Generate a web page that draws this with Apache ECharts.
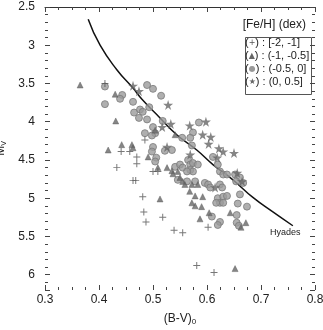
<!DOCTYPE html>
<html>
<head>
<meta charset="utf-8">
<script src="https://cdn.jsdelivr.net/npm/echarts@6/dist/echarts.min.js"></script>
<style>
  html, body { margin: 0; padding: 0; background: #fff; }
  #chart { width: 323px; height: 330px; }
</style>
</head>
<body>
<div id="chart"></div>
<script>
// [Fe/H] in [-2, -1]
const plusPts = [
  [0.411, 3.50], [0.441, 4.39], [0.457, 4.39], [0.485, 4.24], [0.470, 4.46],
  [0.470, 4.55], [0.433, 4.60], [0.463, 4.77], [0.468, 4.77], [0.500, 4.65],
  [0.509, 4.65], [0.481, 4.98], [0.483, 5.18], [0.487, 5.31], [0.518, 5.25],
  [0.539, 5.42], [0.555, 5.45], [0.602, 5.38], [0.581, 5.88], [0.613, 5.97]
];
// (-1, -0.5]
const trianglePts = [
  [0.365, 3.52], [0.430, 3.64], [0.431, 3.99], [0.417, 4.37], [0.442, 4.30],
  [0.461, 4.30], [0.463, 4.34], [0.491, 4.46], [0.504, 4.11], [0.541, 4.17],
  [0.509, 4.60], [0.526, 4.60], [0.535, 4.64], [0.537, 4.68], [0.546, 4.65],
  [0.550, 4.73], [0.513, 5.01], [0.555, 4.78], [0.559, 4.82], [0.572, 4.82],
  [0.583, 4.82], [0.568, 4.91], [0.578, 4.97], [0.592, 4.98], [0.572, 5.06],
  [0.578, 5.10], [0.590, 5.11], [0.604, 5.19], [0.587, 5.27], [0.643, 5.19],
  [0.672, 5.32], [0.663, 5.38], [0.652, 5.92]
];
// (-0.5, 0]
const circlePts = [
  [0.411, 3.54], [0.443, 3.65], [0.439, 3.70], [0.489, 3.52], [0.500, 3.57],
  [0.515, 3.66], [0.411, 3.77], [0.463, 3.74], [0.465, 3.88], [0.476, 3.84],
  [0.481, 3.87], [0.474, 3.95], [0.489, 3.97], [0.493, 3.81], [0.518, 3.99],
  [0.585, 4.01], [0.500, 4.07], [0.504, 4.15], [0.498, 4.18], [0.554, 4.21],
  [0.574, 4.14], [0.569, 4.21], [0.572, 4.31], [0.485, 4.15], [0.500, 4.33],
  [0.498, 4.39], [0.522, 4.38], [0.535, 4.37], [0.506, 4.47], [0.504, 4.52],
  [0.565, 4.50], [0.569, 4.56], [0.574, 4.54], [0.583, 4.56], [0.569, 4.63],
  [0.574, 4.65], [0.541, 4.59], [0.550, 4.56], [0.555, 4.60], [0.563, 4.65],
  [0.611, 4.46], [0.620, 4.56], [0.624, 4.65], [0.630, 4.69], [0.637, 4.69],
  [0.652, 4.69], [0.661, 4.73], [0.667, 4.80], [0.654, 4.78], [0.546, 4.76],
  [0.563, 4.78], [0.578, 4.78], [0.596, 4.80], [0.602, 4.82], [0.606, 4.86],
  [0.624, 4.82], [0.628, 4.86], [0.620, 5.00], [0.630, 4.98], [0.637, 4.97],
  [0.624, 5.06], [0.617, 5.06], [0.630, 5.06], [0.609, 5.24], [0.624, 5.31],
  [0.620, 5.35], [0.661, 4.95], [0.657, 5.07], [0.674, 5.11], [0.655, 5.22],
  [0.655, 5.32], [0.659, 5.36]
];
// (0, 0.5]
const starPts = [
  [0.463, 3.53], [0.474, 3.60], [0.528, 3.78], [0.533, 4.03], [0.517, 4.07],
  [0.568, 4.05], [0.598, 4.00], [0.592, 4.17], [0.607, 4.20], [0.603, 4.29],
  [0.526, 4.33], [0.569, 4.43], [0.622, 4.35], [0.630, 4.39], [0.650, 4.41],
  [0.619, 4.47], [0.656, 4.67], [0.665, 4.78], [0.615, 4.86]
];
// Hyades sequence
const hyadesPts = [
  [0.380, 2.66], [0.402, 3.00], [0.433, 3.32], [0.463, 3.56], [0.480, 3.71],
  [0.513, 3.95], [0.544, 4.17], [0.581, 4.37], [0.611, 4.56], [0.648, 4.76],
  [0.685, 4.99], [0.722, 5.18], [0.759, 5.36]
];
const legendRows = [
  ['+', '[-2, -1]', '#555'],
  ['▲', '(-1, -0.5]', '#666'],
  ['●', '(-0.5, 0]', '#999'],
  ['★', '(0, 0.5]', '#666']
];

const FONT = 'Liberation Sans, Arial, sans-serif';
const PLUS = 'path://M4.3,0H5.7V4.3H10V5.7H5.7V10H4.3V5.7H0V4.3H4.3Z';
const STAR = 'path://M50,0L61,35L98,35L68,57L79,91L50,70L21,91L32,57L2,35L39,35Z';

const chart = echarts.init(document.getElementById('chart'));

const tickStyle = { color: '#444', width: 1 };

const option = {
  animation: false,
  backgroundColor: '#fff',
  grid: { left: 45, right: 8, top: 7, bottom: 40, outerBoundsMode: 'none', containLabel: false },
  xAxis: [
    {
      type: 'value', min: 0.3, max: 0.8, interval: 0.1,
      name: '{a|(B-V)}{s|0}', nameLocation: 'middle', nameGap: 22,
      nameTextStyle: { rich: {
        a: { fontFamily: FONT, fontSize: 12, color: '#222' },
        s: { fontFamily: FONT, fontSize: 8, color: '#222', verticalAlign: 'bottom', padding: [6, 0, 0, 0] }
      } },
      axisLine: { show: false },
      axisTick: { show: true, inside: true, length: 5, lineStyle: tickStyle },
      minorTick: { show: true, splitNumber: 4, length: 3, lineStyle: tickStyle },
      splitLine: { show: false },
      axisLabel: { fontFamily: FONT, fontSize: 12, color: '#222', margin: 4,
        formatter: v => String(Math.round(v * 10) / 10) }
    },
    {
      type: 'value', min: 0.3, max: 0.8, interval: 0.1, position: 'top',
      axisLine: { show: true, lineStyle: { color: '#333', width: 1 } },
      axisTick: { show: true, inside: true, length: 5, lineStyle: tickStyle },
      minorTick: { show: true, splitNumber: 4, length: 3, lineStyle: tickStyle },
      splitLine: { show: false },
      axisLabel: { show: false }
    }
  ],
  yAxis: [
    {
      type: 'value', inverse: true, min: 2.5, max: 6.2, interval: 0.5,
      name: '{a|M}{s|V}', nameLocation: 'middle', nameGap: 30, nameRotate: 90,
      nameTextStyle: { rich: {
        a: { fontFamily: FONT, fontSize: 12, color: '#222' },
        s: { fontFamily: FONT, fontSize: 7, color: '#222', verticalAlign: 'bottom', padding: [6, 0, 0, 0] }
      } },
      axisLine: { show: false },
      axisTick: { show: true, inside: true, length: 5, lineStyle: tickStyle },
      minorTick: { show: true, splitNumber: 5, length: 3, lineStyle: tickStyle },
      splitLine: { show: false },
      axisLabel: { fontFamily: FONT, fontSize: 12, color: '#222', margin: 10, showMaxLabel: false }
    },
    {
      type: 'value', inverse: true, min: 2.5, max: 6.2, interval: 0.5, position: 'right',
      axisLine: { show: false },
      axisTick: { show: true, inside: true, length: 5, lineStyle: tickStyle },
      minorTick: { show: true, splitNumber: 5, length: 3, lineStyle: tickStyle },
      splitLine: { show: false },
      axisLabel: { show: false }
    }
  ],
  series: [
    {
      name: 'Hyades', type: 'line', data: hyadesPts, smooth: true, showSymbol: false,
      lineStyle: { color: '#111', width: 1.5 }, z: 1
    },
    {
      name: 'circle', type: 'scatter', data: circlePts, symbol: 'circle', symbolSize: 7,
      itemStyle: { color: '#9b9b9b', borderColor: '#7a7a7a', borderWidth: 1 }, z: 2
    },
    {
      name: 'triangle', type: 'scatter', data: trianglePts, symbol: 'triangle', symbolSize: 6,
      itemStyle: { color: '#666', borderColor: '#555', borderWidth: 0.5 }, z: 3
    },
    {
      name: 'star', type: 'scatter', data: starPts, symbol: STAR, symbolSize: 10,
      itemStyle: { color: '#666' }, z: 4
    },
    {
      name: 'plus', type: 'scatter', data: plusPts, symbol: PLUS, symbolSize: 7,
      itemStyle: { color: '#555' }, z: 5
    }
  ],
  graphic: [
    { type: 'text', left: 270, top: 228,
      style: { text: 'Hyades', fontFamily: FONT, fontSize: 9, fill: '#222' } },
    { type: 'text', right: 17, top: 19,
      style: { text: '[Fe/H] (dex)', fontFamily: FONT, fontSize: 12, fill: '#222' } },
    { type: 'rect', left: 243, top: 35,
      shape: { width: 66, height: 57 },
      style: { fill: 'none', stroke: '#555', lineWidth: 1 } },
    ...legendRows.map((r, i) => ({
      type: 'text', left: 245, top: 37 + i * 13,
      style: {
        text: '{p|(}{m|' + r[0] + '}{p|) : ' + r[1] + '}',
        rich: {
          p: { fontFamily: FONT, fontSize: 11, fill: '#222' },
          m: { fontFamily: 'DejaVu Sans, sans-serif', fontSize: 8, fill: r[2] }
        }
      }
    }))
  ]
};

chart.setOption(option);
</script>
</body>
</html>
